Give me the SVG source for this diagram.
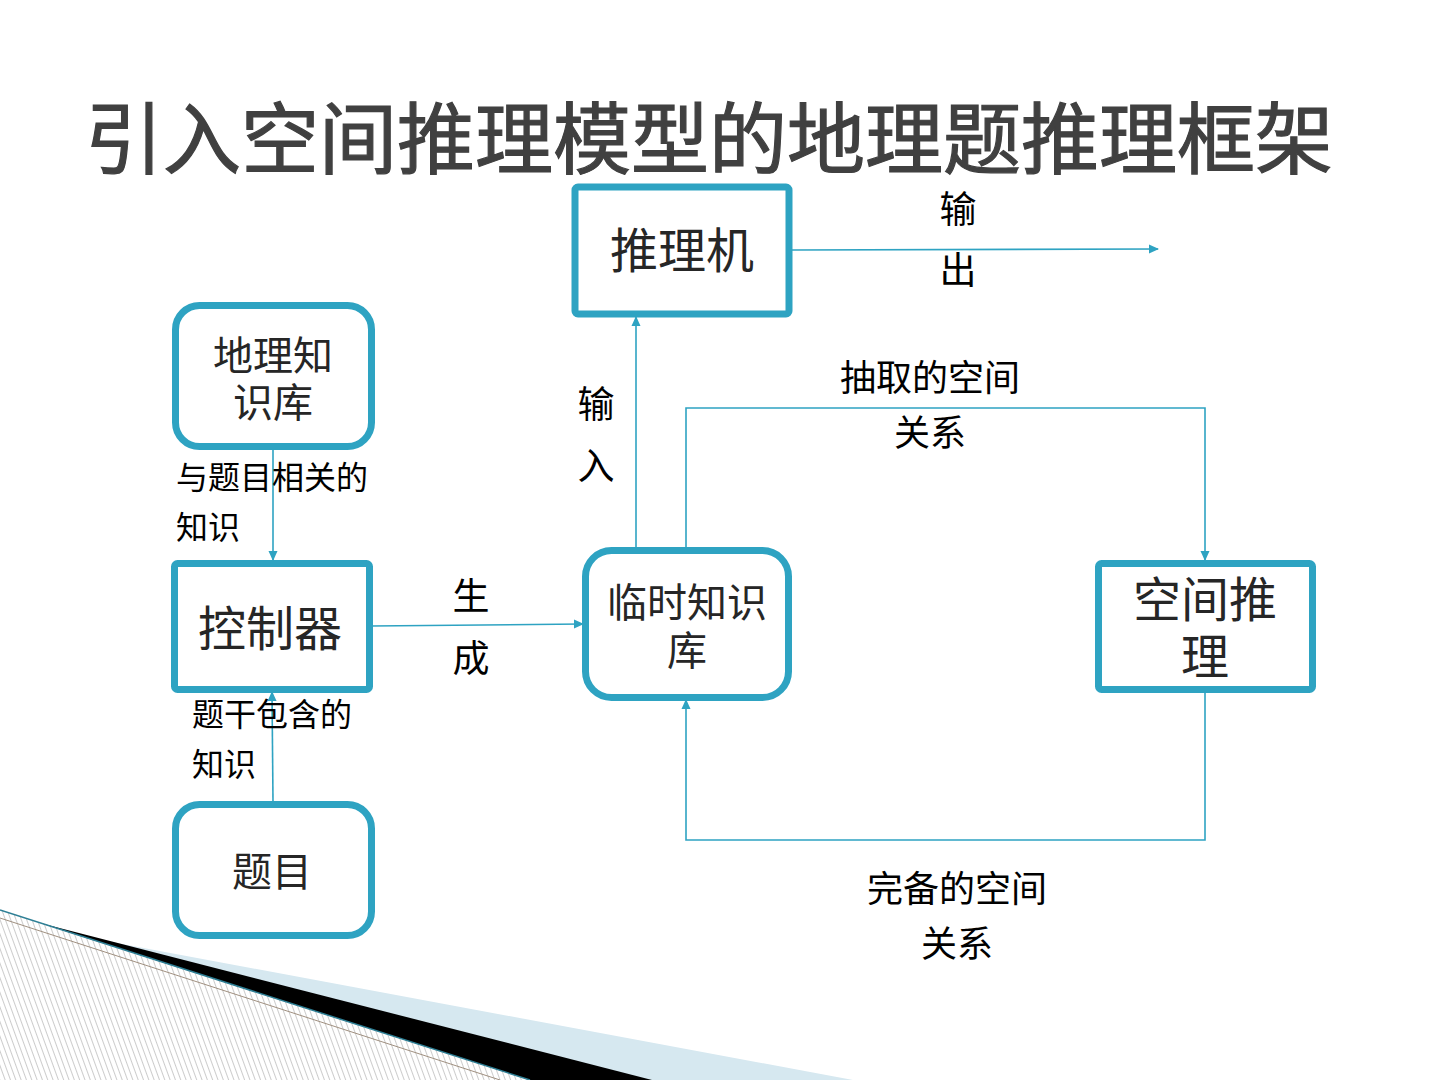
<svg xmlns="http://www.w3.org/2000/svg" width="1440" height="1080" viewBox="0 0 1440 1080">
<defs>
<style>
.box{fill:#fff;stroke:#2ea3c2;stroke-width:7}
.ln{fill:none;stroke:#2ea3c2;stroke-width:1.6}
.t{font-family:"Noto Sans CJK SC","Noto Sans",sans-serif;fill:#262626}
.nt{font-size:48px;text-anchor:middle}
.lb{font-size:37px;fill:#000}
.md{font-size:36px;fill:#000}
.sm{font-size:32px;fill:#000}
</style>
<marker id="ah" markerWidth="10" markerHeight="10" refX="9" refY="5" orient="auto" markerUnits="userSpaceOnUse">
<path d="M0,0.5 L10,5 L0,9.5 Z" fill="#2ea3c2"/>
</marker>
<pattern id="hatch" width="5" height="5" patternUnits="userSpaceOnUse" patternTransform="rotate(-20)">
<rect width="5" height="5" fill="#fff"/>
<line x1="0" y1="0" x2="0" y2="5" stroke="#9a9a9a" stroke-width="1"/>
</pattern>
</defs>
<rect width="1440" height="1080" fill="#fff"/>
<g id="decoration">
<polygon points="0,910 530,1080 0,1080" fill="url(#hatch)"/>
<polygon points="90,938 853,1080 560,1080" fill="#d6e8f0"/>
<polygon points="40,923 652,1080 530,1080" fill="#000"/>
<line x1="0" y1="910" x2="530" y2="1080" stroke="#2e7f95" stroke-width="1.5"/>
<line x1="0" y1="918" x2="500" y2="1080" stroke="#a09080" stroke-width="1"/>
</g>
<text class="t" x="709" y="168" font-size="78" text-anchor="middle" style="fill:#404040;stroke:#404040;stroke-width:1.2">引入空间推理模型的地理题推理框架</text>
<g id="connectors">
<line class="ln" x1="792" y1="250" x2="1158" y2="249" marker-end="url(#ah)"/>
<line class="ln" x1="273" y1="449" x2="273" y2="560" marker-end="url(#ah)"/>
<line class="ln" x1="273" y1="802" x2="272" y2="692" marker-end="url(#ah)"/>
<line class="ln" x1="371" y1="626" x2="583" y2="624" marker-end="url(#ah)"/>
<line class="ln" x1="636" y1="548" x2="636" y2="317" marker-end="url(#ah)"/>
<polyline class="ln" points="686,548 686,408 1205,408 1205,560" marker-end="url(#ah)"/>
<polyline class="ln" points="1205,691 1205,840 686,840 686,700" marker-end="url(#ah)"/>
</g>
<g id="labels">
<text class="t lb" x="958" y="223" text-anchor="middle">输</text>
<text class="t lb" x="958" y="284" text-anchor="middle">出</text>
<text class="t lb" x="596" y="418" text-anchor="middle">输</text>
<text class="t lb" x="596" y="480" text-anchor="middle">入</text>
<text class="t lb" x="471" y="610" text-anchor="middle">生</text>
<text class="t lb" x="471" y="672" text-anchor="middle">成</text>
<text class="t md" x="930" y="391" text-anchor="middle">抽取的空间</text>
<text class="t md" x="930" y="446" text-anchor="middle">关系</text>
<text class="t md" x="957" y="902" text-anchor="middle">完备的空间</text>
<text class="t md" x="957" y="957" text-anchor="middle">关系</text>
<text class="t sm" x="176" y="489">与题目相关的</text>
<text class="t sm" x="176" y="539">知识</text>
<text class="t sm" x="192" y="726">题干包含的</text>
<text class="t sm" x="192" y="776">知识</text>
</g>
<g id="node-tuilij">
<rect class="box" x="575" y="187" width="214" height="127" rx="3"/>
<text class="t nt" x="682" y="268">推理机</text>
</g>
<g id="node-dilizhishiku">
<rect class="box" x="175.500" y="305.500" width="196" height="141" rx="24"/>
<text class="t nt" x="273" y="370" style="font-size:40px">地理知</text>
<text class="t nt" x="273" y="417" style="font-size:40px">识库</text>
</g>
<g id="node-kongzhiqi">
<rect class="box" x="174.500" y="563.500" width="195" height="126" rx="3"/>
<text class="t nt" x="270" y="646">控制器</text>
</g>
<g id="node-timu">
<rect class="box" x="175.500" y="804.500" width="196" height="131" rx="24"/>
<text class="t nt" x="272" y="886" style="font-size:40px">题目</text>
</g>
<g id="node-linshi">
<rect class="box" x="585.500" y="550.500" width="203" height="147" rx="26"/>
<text class="t nt" x="687" y="617" style="font-size:40px">临时知识</text>
<text class="t nt" x="687" y="665" style="font-size:40px">库</text>
</g>
<g id="node-kongjian">
<rect class="box" x="1098.500" y="563.500" width="214" height="126" rx="3"/>
<text class="t nt" x="1205" y="617">空间推</text>
<text class="t nt" x="1205" y="674">理</text>
</g>
</svg>
